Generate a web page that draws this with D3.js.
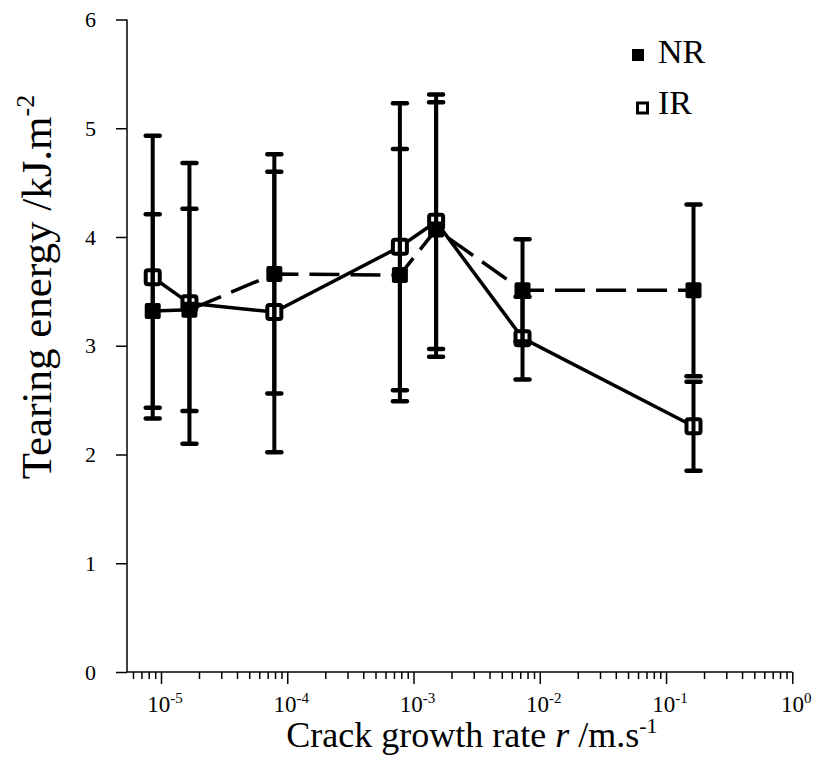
<!DOCTYPE html>
<html>
<head>
<meta charset="utf-8">
<script src="https://cdn.jsdelivr.net/npm/d3@7"></script>
<style>
  body { margin: 0; background: #fff; }
  svg { display: block; }
  text { font-family: "Liberation Serif", "Times New Roman", serif; fill: #000; }
</style>
</head>
<body>
<svg id="chart" width="816" height="762"></svg>
<script>
// Crack growth rate (m/s) for each test condition
const rate = [8.6e-6, 1.68e-5, 7.9e-5, 7.8e-4, 1.51e-3, 7.3e-3, 0.165];
// Natural rubber: mean tearing energy and error (kJ/m2)
const nrEnergy = [3.32, 3.33, 3.66, 3.65, 4.07, 3.51, 3.51];
const nrError  = [0.89, 0.93, 1.10, 1.16, 1.17, 0.47, 0.79];
// Isoprene rubber: mean tearing energy and error (kJ/m2)
const irEnergy = [3.63, 3.39, 3.31, 3.91, 4.14, 3.07, 2.26];
const irError  = [1.30, 1.29, 1.29, 1.32, 1.17, 0.38, 0.41];

const yTicks = [0, 1, 2, 3, 4, 5, 6];
const xDecades = [-5, -4, -3, -2, -1, 0];
const seriesNames = ["NR", "IR"];

const svg = d3.select("#chart");

const x = d3.scaleLog().domain([5.38e-6, 1]).range([127, 792.3]);
const y = d3.scaleLinear().domain([0, 6]).range([672, 19.5]);

// ---- axes ----
const yAxis = svg.append("g")
  .attr("transform", `translate(${x.range()[0]},0)`)
  .call(d3.axisLeft(y).tickValues(yTicks).tickSize(11).tickPadding(20).tickFormat(d3.format("d")));
yAxis.select(".domain").attr("stroke-width", 1.5).attr("d", `M0,${y(6)}V${y(0)}`);
yAxis.selectAll(".tick line").attr("stroke-width", 1.5);
yAxis.selectAll(".tick text").attr("font-size", 22);

const majorTicks = xDecades.map(p => Math.pow(10, p));
const minorTicks = [];
for (let p = -6; p < 0; p++) {
  for (let m = 2; m <= 9; m++) {
    const v = m * Math.pow(10, p);
    if (v >= x.domain()[0]) minorTicks.push(v);
  }
}

const xAxis = svg.append("g")
  .attr("transform", `translate(0,${y(0)})`)
  .call(d3.axisBottom(x).tickValues(majorTicks).tickSize(12).tickFormat(() => ""));
xAxis.select(".domain").attr("stroke-width", 1.5).attr("d", `M${x.range()[0]},0H${x.range()[1]}`);
xAxis.selectAll(".tick line").attr("stroke-width", 1.5);

const xMinor = svg.append("g")
  .attr("transform", `translate(0,${y(0)})`)
  .call(d3.axisBottom(x).tickValues(minorTicks).tickSize(7).tickFormat(() => ""));
xMinor.select(".domain").remove();
xMinor.selectAll(".tick line").attr("stroke-width", 1.5);

// decade labels 10^n
const xl = svg.append("g").selectAll("text").data(xDecades).join("text")
  .attr("x", d => x(Math.pow(10, d)) + 4)
  .attr("y", 712)
  .attr("text-anchor", "middle")
  .attr("font-size", 23);
xl.append("tspan").text("10");
xl.append("tspan").attr("dy", -9).attr("font-size", 15).text(d => d === 0 ? "0" : String(d));

// axis titles
const xt = svg.append("text")
  .attr("x", 472).attr("y", 747)
  .attr("text-anchor", "middle")
  .attr("font-size", 36);
xt.append("tspan").text("Crack growth rate ");
xt.append("tspan").attr("font-style", "italic").text("r");
xt.append("tspan").text(" /m.s");
xt.append("tspan").attr("dy", -14).attr("font-size", 22).text("-1");

const yt = svg.append("text")
  .attr("transform", "translate(51,287) rotate(-90)")
  .attr("text-anchor", "middle")
  .attr("font-size", 43);
yt.append("tspan").text("Tearing energy /kJ.m");
yt.append("tspan").attr("dy", -17).attr("font-size", 26).text("-2");

// ---- data ----
const nrData = rate.map((r, i) => ({ r, v: nrEnergy[i], e: nrError[i] }));
const irData = rate.map((r, i) => ({ r, v: irEnergy[i], e: irError[i] }));

const line = d3.line().x(d => x(d.r)).y(d => y(d.v));

svg.append("path").datum(nrData).attr("d", line)
  .attr("fill", "none").attr("stroke", "#000").attr("stroke-width", 3.5)
  .attr("stroke-dasharray", "30,11");
svg.append("path").datum(irData).attr("d", line)
  .attr("fill", "none").attr("stroke", "#000").attr("stroke-width", 3.5);

// open squares (IR)
const ms = 14;
svg.append("g").selectAll("rect").data(irData).join("rect")
  .attr("x", d => x(d.r) - ms / 2).attr("y", d => y(d.v) - ms / 2)
  .attr("width", ms).attr("height", ms).attr("rx", 2)
  .attr("fill", "#fff").attr("stroke", "#000").attr("stroke-width", 4);

// error bars for both series
function errorBars(data) {
  const g = svg.append("g").attr("stroke", "#000");
  g.selectAll("line.stem").data(data).join("line").attr("class", "stem")
    .attr("x1", d => x(d.r)).attr("x2", d => x(d.r))
    .attr("y1", d => y(d.v + d.e)).attr("y2", d => y(d.v - d.e))
    .attr("stroke-width", 4);
  const caps = data.flatMap(d => [{ r: d.r, v: d.v + d.e }, { r: d.r, v: d.v - d.e }]);
  g.selectAll("line.cap").data(caps).join("line").attr("class", "cap")
    .attr("x1", d => x(d.r) - 7).attr("x2", d => x(d.r) + 7)
    .attr("y1", d => y(d.v)).attr("y2", d => y(d.v))
    .attr("stroke-width", 4.5).attr("stroke-linecap", "round");
}
errorBars(nrData);
errorBars(irData);

// filled squares (NR)
svg.append("g").selectAll("rect").data(nrData).join("rect")
  .attr("x", d => x(d.r) - 8).attr("y", d => y(d.v) - 8)
  .attr("width", 16).attr("height", 16).attr("rx", 2)
  .attr("fill", "#000");

// ---- legend ----
const legend = svg.append("g");
legend.append("rect").attr("x", 632).attr("y", 49).attr("width", 12).attr("height", 12).attr("fill", "#000");
legend.append("rect").attr("x", 637.5).attr("y", 103).attr("width", 10).attr("height", 10)
  .attr("fill", "#fff").attr("stroke", "#000").attr("stroke-width", 3);
legend.selectAll("text").data(seriesNames).join("text")
  .attr("x", 658).attr("y", (d, i) => 63 + i * 51)
  .attr("font-size", 34)
  .text(d => d);
</script>
</body>
</html>
